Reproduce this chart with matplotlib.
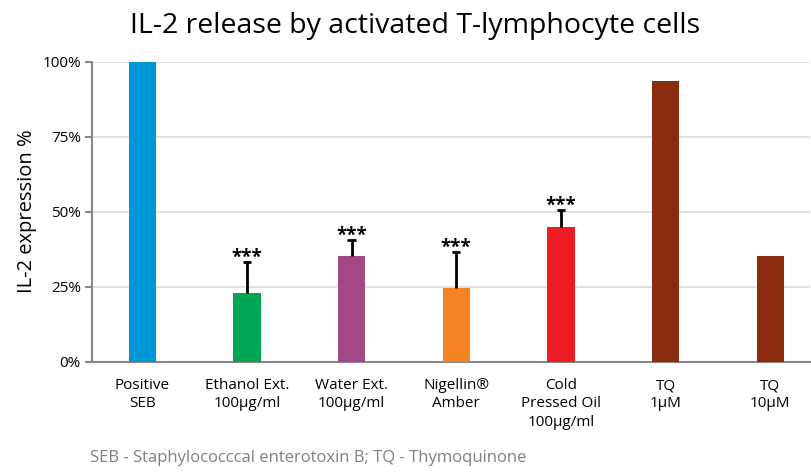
import matplotlib
matplotlib.use("Agg")
import matplotlib.pyplot as plt
import numpy as np

categories = ["Positive\nSEB", "Ethanol Ext.\n100µg/ml", "Water Ext.\n100µg/ml",
              "Nigellin®\nAmber", "Cold\nPressed Oil\n100µg/ml", "TQ\n1µM", "TQ\n10µM"]
values = [100, 22.7, 35.3, 24.5, 45.0, 93.6, 35.1]
err_upper = [0, 10.5, 5.2, 12.1, 5.5, 0, 0]
signif = ["", "***", "***", "***", "***", "", ""]
colors = ["#0096D8", "#00A651", "#A54686", "#F58220", "#ED1C24", "#8A2B0D", "#8A2B0D"]
yticks = [0, 25, 50, 75, 100]
ytick_labels = ["0%", "25%", "50%", "75%", "100%"]

plt.rcParams['font.family'] = ['Open Sans', 'DejaVu Sans']

fig = plt.figure(figsize=(8.12, 4.72), dpi=100)
ax = fig.add_axes([92/812, 1-361.5/472, (810-92)/812, 300/472])

x = np.arange(len(categories))
ax.bar(x, values, width=0.26, color=colors, zorder=3)
cap = 0.04
for xi, v, e, s in zip(x, values, err_upper, signif):
    if e > 0:
        ax.vlines(xi, v, v + e, colors='black', linewidth=2, zorder=4)
        ax.hlines(v + e, xi - cap, xi + cap, colors='black', linewidth=2, zorder=4)
    if s:
        ax.text(xi, v + e + 1.3, s, ha='center', va='center', fontsize=13.5,
                fontweight='bold', color='black', zorder=5)

ax.set_ylim(0, 100)
ax.set_xlim(-0.48, 6.38)
ax.set_yticks(yticks)
ax.set_yticklabels(ytick_labels, fontsize=11)
ax.set_xticks(x)
ax.set_xticklabels(categories, fontsize=11, linespacing=1.3)
ax.tick_params(axis='x', length=0, pad=12)
ax.tick_params(axis='y', length=5, width=1.5, color='#888888', pad=3)
ax.yaxis.grid(True, color='#dddddd', linewidth=1.2, zorder=0)
for sp in ['top', 'right']:
    ax.spines[sp].set_visible(False)
for sp in ['left', 'bottom']:
    ax.spines[sp].set_color('#888888')
    ax.spines[sp].set_linewidth(1.5)
ax.set_ylabel("IL-2 expression %", fontsize=14.5, labelpad=4)

fig.text(415/812, 1-26/472, "IL-2 release by activated T-lymphocyte cells",
         ha='center', va='center', fontsize=20.5)
fig.text(90/812, 1-458/472, "SEB - Staphylococccal enterotoxin B; TQ - Thymoquinone",
         ha='left', va='center', fontsize=12, color='#808080')

fig.savefig("out.png", dpi=100)
